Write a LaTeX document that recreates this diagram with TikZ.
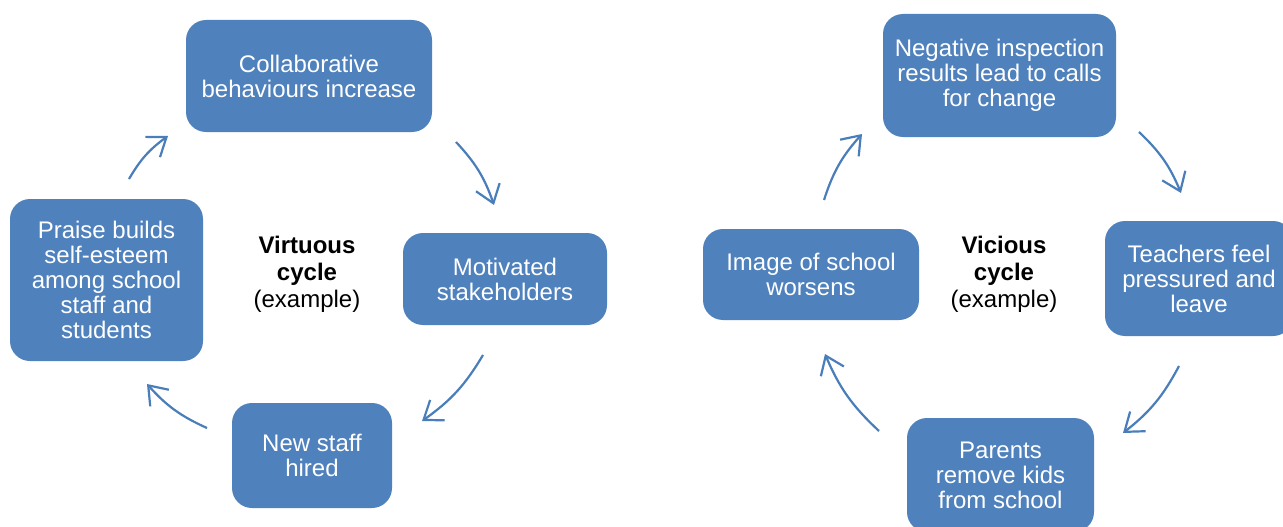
\documentclass[tikz,border=0pt]{standalone}
\usepackage{fontspec}
\setmainfont{Liberation Sans}
\usetikzlibrary{arrows.meta}
\definecolor{boxblue}{RGB}{79,129,189}
\definecolor{arrowblue}{RGB}{74,126,187}
\tikzset{
  stagebox/.style={fill=boxblue, draw=none, rounded corners=20pt, text=white,
    align=center, inner sep=0pt, font=\fontsize{24}{25}\selectfont},
  cyclelabel/.style={align=center, inner sep=0pt, text=black,
    font=\fontsize{24}{27}\selectfont},
  flow/.style={draw=arrowblue, line width=2.2pt,
    -{Straight Barb[length=17pt,width=25pt,line width=2.2pt]}, bend left=12}
}
\begin{document}
\begin{tikzpicture}[x=1pt,y=1pt]
\useasboundingbox (0,0) rectangle (1283,-527);
\clip (0,0) rectangle (1283,-527);

% --- virtuous cycle ---
\node[stagebox, minimum width=246pt, minimum height=112pt] (vc1) at (309,-76)
  {Collaborative\\behaviours increase};
\node[stagebox, minimum width=204pt, minimum height=92pt] (vc2) at (505,-279)
  {Motivated\\stakeholders};
\node[stagebox, minimum width=160pt, minimum height=105pt] (vc3) at (312,-455.5)
  {New staff\\hired};
\node[stagebox, minimum width=193pt, minimum height=162pt] (vc4) at (106.5,-280)
  {Praise builds\\self-esteem\\among school\\staff and\\students};
\node[cyclelabel] (vclabel) at (307,-274)
  {\textbf{Virtuous}\\\textbf{cycle}\\(example)};

\coordinate (va1) at (129,-179); \coordinate (vb1) at (168,-136);
\coordinate (va2) at (456,-142); \coordinate (vb2) at (494,-205);
\coordinate (va3) at (483,-355); \coordinate (vb3) at (422,-421);
\coordinate (va4) at (207,-428); \coordinate (vb4) at (147,-384);
\draw[flow] (va1) to (vb1);
\draw[flow] (va2) to (vb2);
\draw[flow] (va3) to (vb3);
\draw[flow] (va4) to (vb4);

% --- vicious cycle ---
\node[stagebox, minimum width=233pt, minimum height=123pt] (xc1) at (999.5,-75.5)
  {Negative inspection\\results lead to calls\\for change};
\node[stagebox, minimum width=188pt, minimum height=115pt] (xc2) at (1199,-278.5)
  {Teachers feel\\pressured and\\leave};
\node[stagebox, minimum width=187pt, minimum height=114pt] (xc3) at (1000.5,-475)
  {Parents\\remove kids\\from school};
\node[stagebox, minimum width=216pt, minimum height=91pt] (xc4) at (811,-274.5)
  {Image of school\\worsens};
\node[cyclelabel] (xclabel) at (1004,-274)
  {\textbf{Vicious}\\\textbf{cycle}\\(example)};

\coordinate (xa1) at (824,-200);  \coordinate (xb1) at (862,-134);
\coordinate (xa2) at (1139,-132); \coordinate (xb2) at (1181,-193);
\coordinate (xa3) at (1179,-366); \coordinate (xb3) at (1123,-433);
\coordinate (xa4) at (879,-431);  \coordinate (xb4) at (825,-354);
\draw[flow] (xa1) to (xb1);
\draw[flow] (xa2) to (xb2);
\draw[flow] (xa3) to (xb3);
\draw[flow] (xa4) to (xb4);
\end{tikzpicture}
\end{document}
